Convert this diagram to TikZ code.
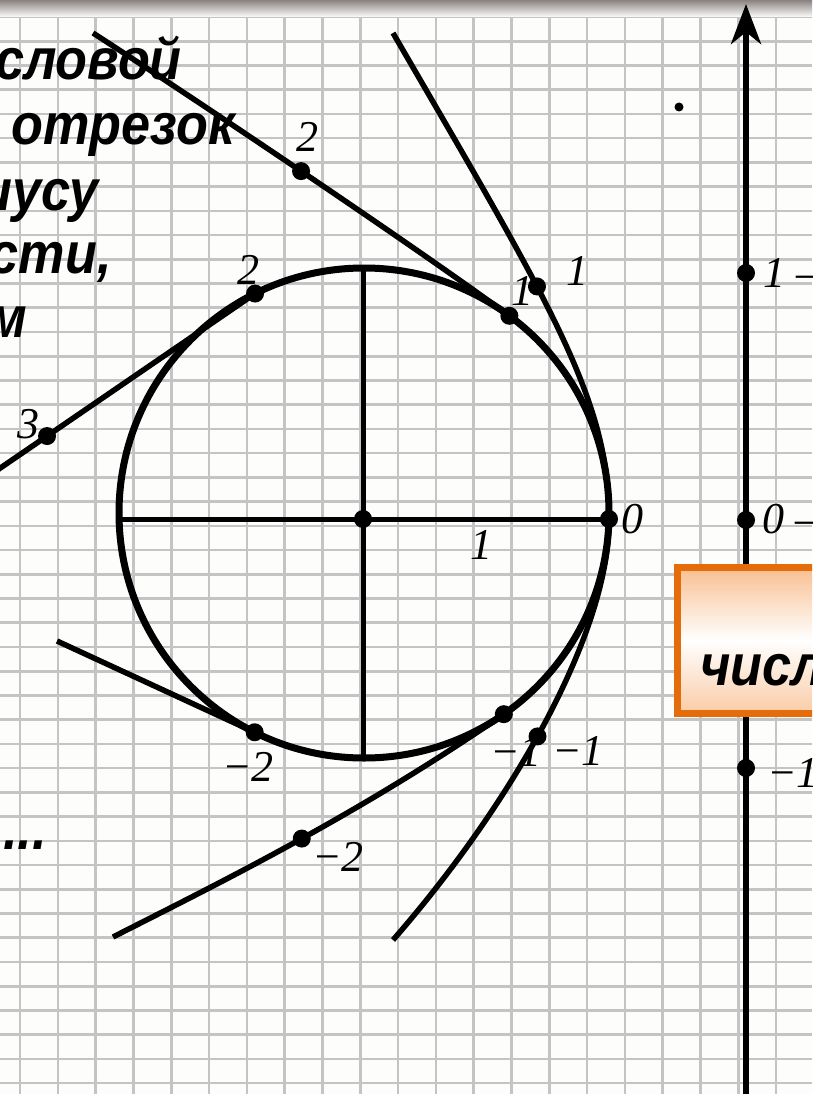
\documentclass[tikz,border=0pt]{standalone}
\usepackage{fontspec}
\setmainfont{Liberation Serif}
\newfontfamily\slidefont{Liberation Sans}[FakeStretch=0.9]
\usetikzlibrary{arrows.meta}
\definecolor{paper}{HTML}{FDFDFC}
\definecolor{gridgrey}{HTML}{C4C4C4}
\definecolor{bandgrey}{HTML}{8A8280}
\definecolor{boxorange}{HTML}{E46C0A}
\definecolor{boxpeach}{HTML}{F8BF90}

\begin{document}
\begin{tikzpicture}[x=1pt,y=1pt,
  gridline/.style={draw=gridgrey,line width=2.6pt},
  wrap/.style={line width=5.5pt},
  ring/.style={line width=7pt},
  diam/.style={line width=5pt},
  bead/.style={circle,fill=black,inner sep=0pt,minimum size=18pt},
  numlbl/.style={font=\itshape\fontsize{44}{44}\selectfont,inner sep=0pt},
  slidetxt/.style={font=\slidefont\bfseries\itshape\fontsize{58}{64}\selectfont,
                   inner sep=0pt,anchor=base east},
  axisline/.style={-{Stealth[length=40pt,width=30pt,inset=12pt]},line width=6pt},
  obox/.style={draw=boxorange,line width=7pt,top color=boxpeach,bottom color=boxpeach!80,
               middle color=white,inner sep=0pt,minimum width=240pt,minimum height=146pt,
               anchor=north west}]

\useasboundingbox (0,0) rectangle (812,-1094);
\clip (0,0) rectangle (812,-1094);
\fill[paper] (0,0) rectangle (812,-1094);
\foreach \k in {0,...,21} \draw[gridline] (20+37.8*\k,0) -- (20+37.8*\k,-1094);
\foreach \k in {0,...,44} \draw[gridline] (0,-17-24.23*\k) -- (812,-17-24.23*\k);
\shade[top color=bandgrey,bottom color=paper] (0,0) rectangle (812,-17);

\node[slidetxt] (tx1) at (182,-80)  {словой};
\node[slidetxt] (tx2) at (235,-145) {отрезок};
\node[slidetxt] (tx3) at (99,-210)  {иусу};
\node[slidetxt] (tx4) at (112,-273) {сти,};
\node[slidetxt] (tx5) at (27,-337)  {м};
\node[slidetxt] (tx6) at (47,-849)  {...};

\coordinate (O) at (364,-513);
\draw[ring] (O) circle[radius=245];
\node[bead] (o)  at (363,-519) {};
\node[bead] (c0) at (609,-519) {};
\coordinate (cl) at (119,-519);
\coordinate (ct) at (363,-268);
\coordinate (cb) at (363,-757);
\draw[diam] (cl) -- (c0.center);
\draw[diam] (ct) -- (cb);
\node[bead] (c1)  at ([shift={(53.6:245)}]O) {};
\node[bead] (c2)  at ([shift={(116.4:245)}]O) {};
\node[bead] (cm1) at ([shift={(-55.2:245)}]O) {};
\node[bead] (cm2) at ([shift={(-116.5:245)}]O) {};

\coordinate (wtop) at (393,-33);
\coordinate (wbot) at (393,-940);
\draw[wrap] (wtop) .. controls (549.6,-303) and (610,-400) .. node[bead,pos=0.4] (w1) {} (c0.center)
  .. controls (610,-630) and (515,-800) .. node[bead,pos=0.54] (wm1) {} (wbot);

\coordinate (btop) at (93,-33);
\coordinate (bbot) at (113,-937);
\draw[wrap] (btop) .. controls (193,-97.7) and (409,-242.3) .. node[bead,pos=0.5] (t2) {} (c1.center)
  arc[start angle=53.6,end angle=-55.2,radius=245]
  .. controls (354,-817.5) and (213,-886) .. node[bead,pos=0.47] (tm2) {} (bbot);

\coordinate (ctop) at (-4,-471);
\coordinate (cbot) at (57,-641);
\draw[wrap] (ctop) -- node[bead,pos=0.197] (s3) {} (c2.center);
\draw[wrap] (cbot) -- (cm2.center);

\node[numlbl] (lw1)  at (577,-271) {1};
\node[numlbl] (lwm1) at (578,-751) {−1};
\node[numlbl] (lc1)  at (522,-291) {1};
\node[numlbl] (lcm1) at (516,-752) {−1};
\node[numlbl] (lc2)  at (248,-270) {2};
\node[numlbl] (lcm2) at (248,-767) {−2};
\node[numlbl] (lt2)  at (307,-137) {2};
\node[numlbl] (ltm2) at (338,-857) {−2};
\node[numlbl] (ls3)  at (28,-424)  {3};
\node[numlbl] (lc0)  at (632,-519) {0};
\node[numlbl] (lr)   at (481,-545) {1};

\node[circle,fill=black,inner sep=0pt,minimum size=9pt] (pt) at (679,-107) {};

\coordinate (abot) at (746,-1100);
\coordinate (atop) at (746,-4);
\draw[axisline] (abot) -- (atop);
\node[bead] (a1)  at (746,-273) {};
\node[bead] (a0)  at (746,-520) {};
\node[bead] (am1) at (746,-768) {};
\node[numlbl,anchor=west] (la1)  at (763,-273) {1 --};
\node[numlbl,anchor=west] (la0)  at (762,-519) {0 --};
\node[numlbl,anchor=west] (lam1) at (767,-773) {−1};

\node[obox] (numbox) at (673.5,-563.5) {};
\node[slidetxt,anchor=base west] (boxtxt) at (700,-685) {числ};
\end{tikzpicture}
\end{document}
